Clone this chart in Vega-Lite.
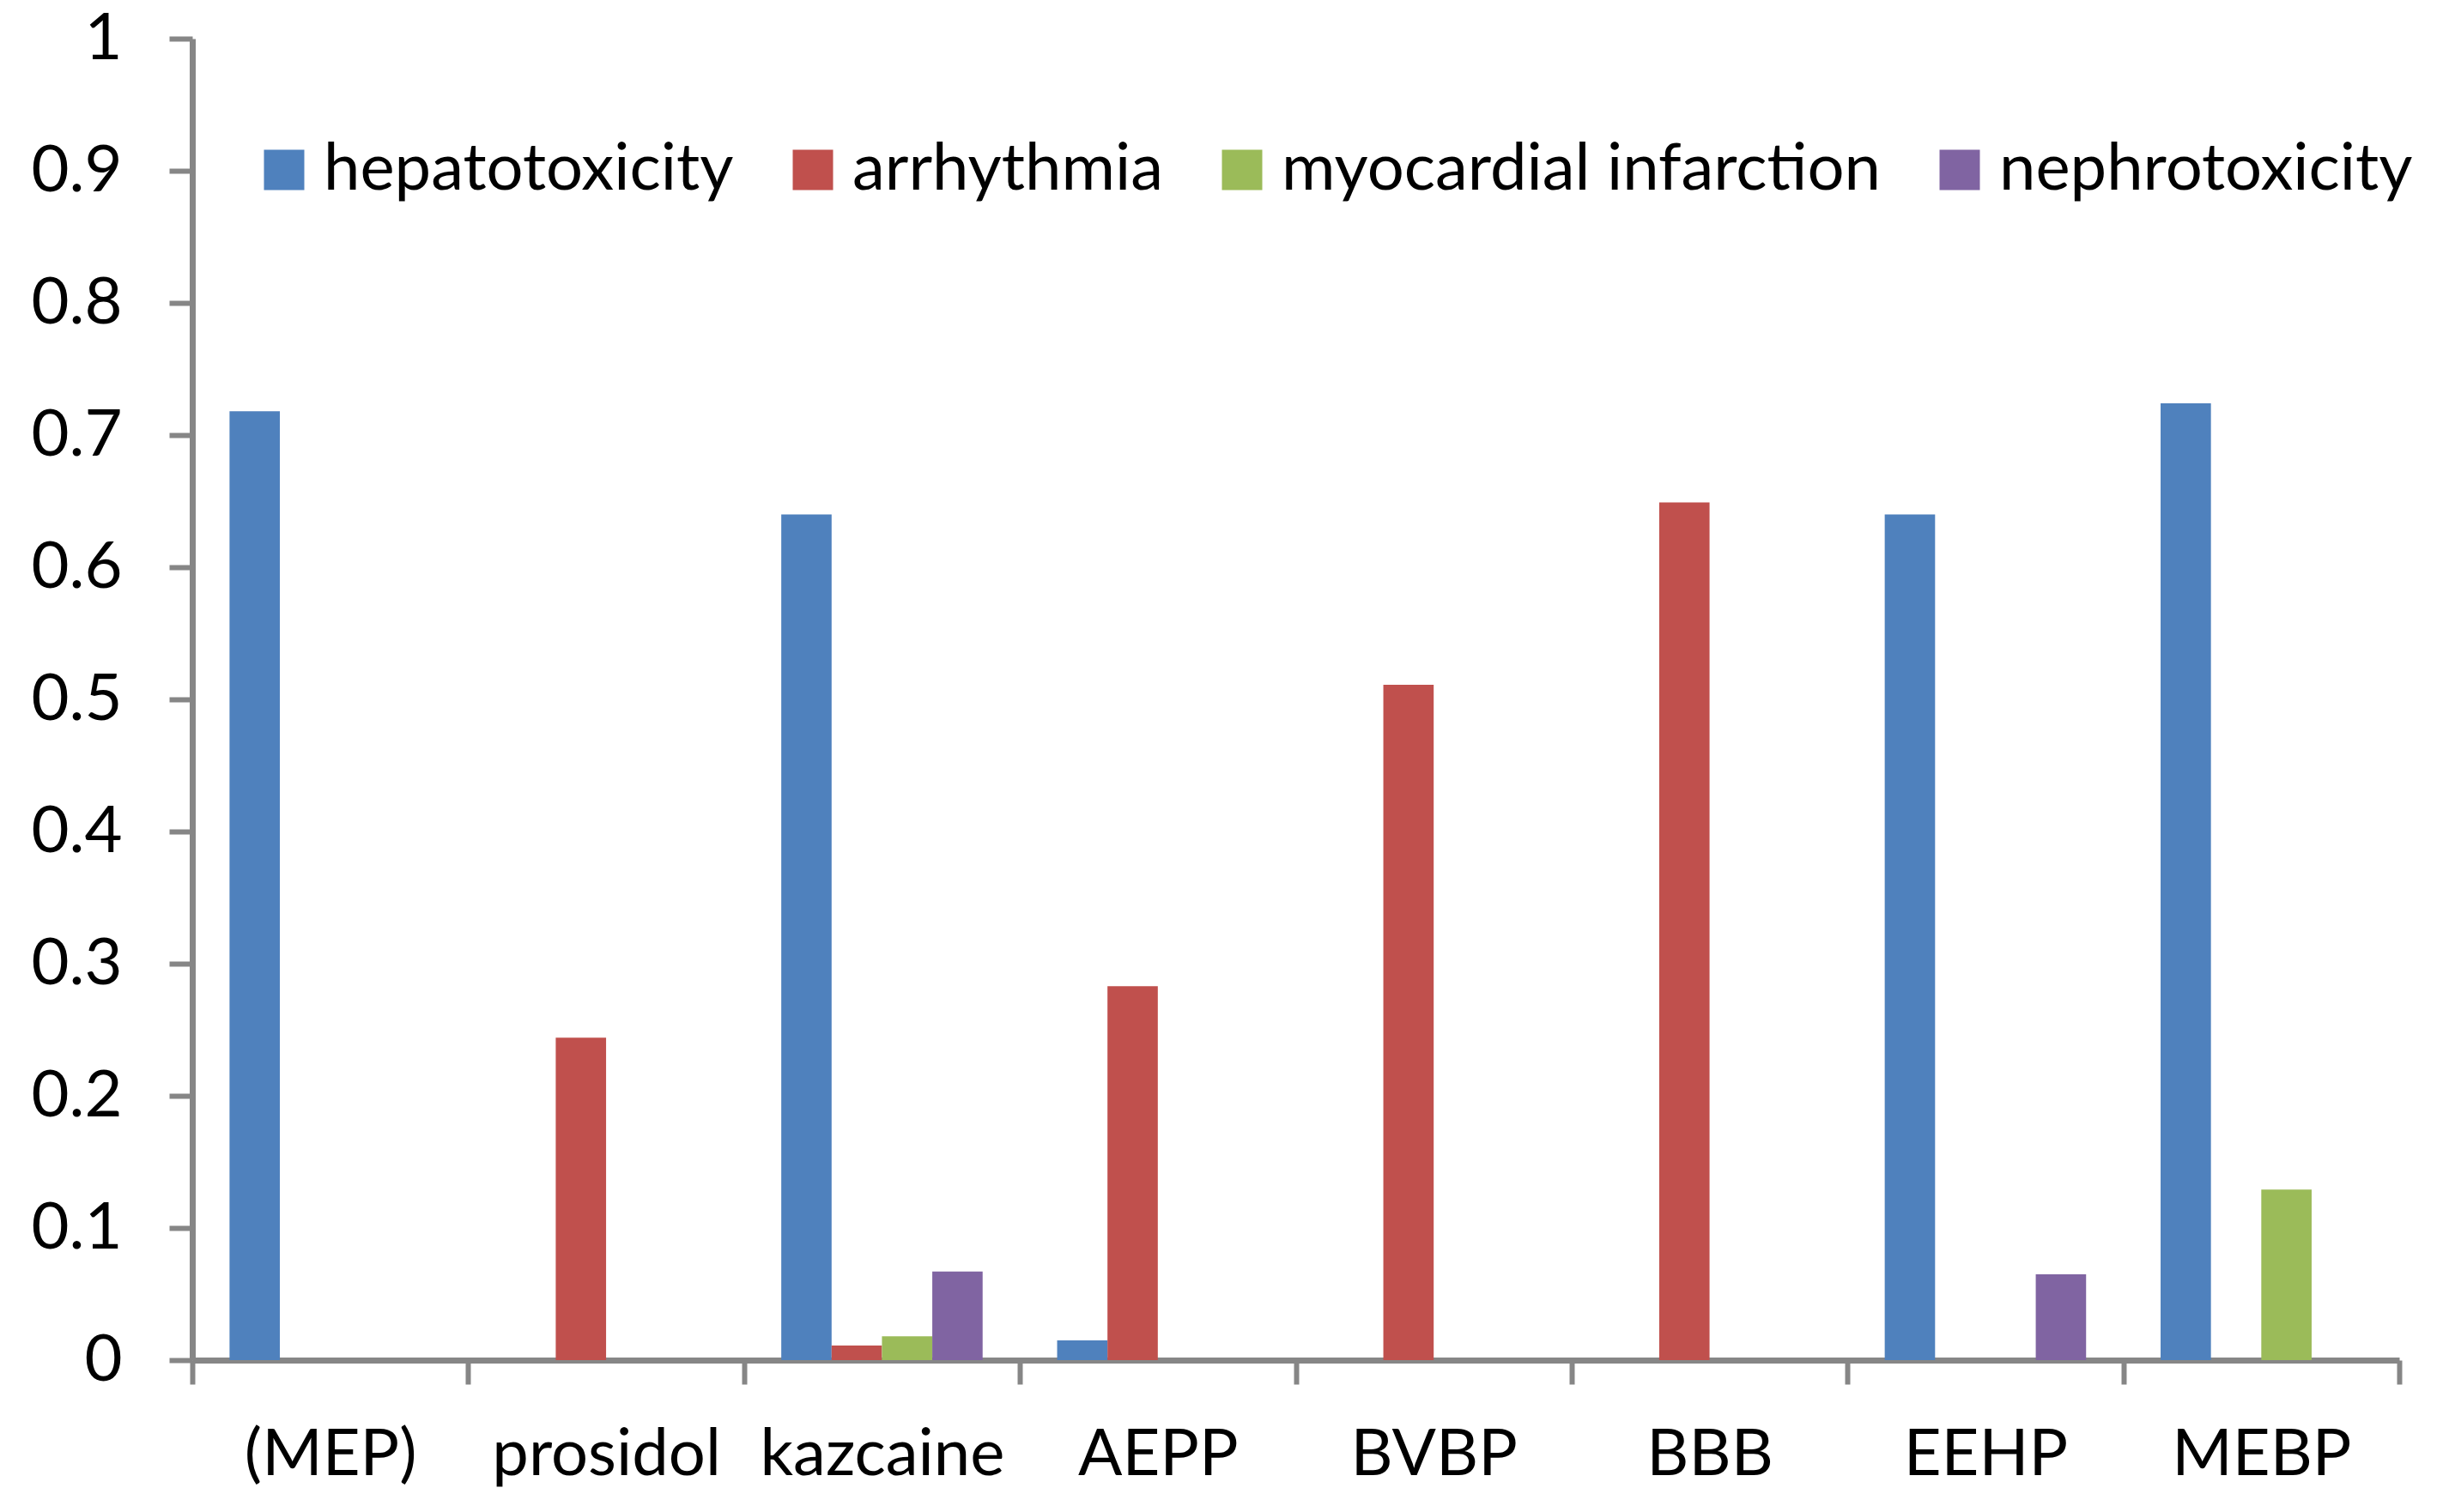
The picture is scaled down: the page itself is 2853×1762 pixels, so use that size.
{
  "$schema": "https://vega.github.io/schema/vega-lite/v6.json",
  "width": 2571,
  "height": 1540,
  "autosize": {"type": "none"},
  "padding": {"left": 224, "top": 45, "right": 58, "bottom": 177},
  "background": "white",
  "config": {"view": {"stroke": null}, "font": "Lato"},
  "data": {
    "values": [
      {"drug": "(MEP)", "effect": "hepatotoxicity", "value": 0.718},
      {"drug": "prosidol", "effect": "arrhythmia", "value": 0.244},
      {"drug": "kazcaine", "effect": "hepatotoxicity", "value": 0.640},
      {"drug": "kazcaine", "effect": "arrhythmia", "value": 0.011},
      {"drug": "kazcaine", "effect": "myocardial infarction", "value": 0.018},
      {"drug": "kazcaine", "effect": "nephrotoxicity", "value": 0.067},
      {"drug": "AEPP", "effect": "hepatotoxicity", "value": 0.015},
      {"drug": "AEPP", "effect": "arrhythmia", "value": 0.283},
      {"drug": "BVBP", "effect": "arrhythmia", "value": 0.511},
      {"drug": "BBB", "effect": "arrhythmia", "value": 0.649},
      {"drug": "EEHP", "effect": "hepatotoxicity", "value": 0.640},
      {"drug": "EEHP", "effect": "nephrotoxicity", "value": 0.065},
      {"drug": "MEBP", "effect": "hepatotoxicity", "value": 0.724},
      {"drug": "MEBP", "effect": "myocardial infarction", "value": 0.129}
    ]
  },
  "mark": {"type": "bar"},
  "encoding": {
    "x": {
      "field": "drug",
      "type": "nominal",
      "sort": ["(MEP)", "prosidol", "kazcaine", "AEPP", "BVBP", "BBB", "EEHP", "MEBP"],
      "scale": {"paddingInner": 0, "paddingOuter": 0},
      "axis": {
        "title": null,
        "labelAngle": 0,
        "tickBand": "extent",
        "domainColor": "#868686",
        "domainWidth": 7,
        "tickColor": "#868686",
        "tickWidth": 6,
        "tickSize": 28,
        "labelFont": "Lato",
        "labelFontSize": 76,
        "labelColor": "#000000",
        "labelPadding": 45,
        "labelLimit": 2000,
        "labelOverlap": false
      }
    },
    "xOffset": {
      "field": "effect",
      "type": "nominal",
      "scale": {
        "domain": ["hepatotoxicity", "arrhythmia", "myocardial infarction", "nephrotoxicity"],
        "paddingInner": 0,
        "paddingOuter": 0.74
      }
    },
    "y": {
      "field": "value",
      "type": "quantitative",
      "scale": {"domain": [0, 1], "nice": false},
      "axis": {
        "title": null,
        "grid": false,
        "values": [0, 0.1, 0.2, 0.3, 0.4, 0.5, 0.6, 0.7, 0.8, 0.9, 1],
        "format": "~g",
        "domainColor": "#868686",
        "domainWidth": 7,
        "tickColor": "#868686",
        "tickWidth": 6,
        "tickSize": 27,
        "labelFont": "Lato",
        "labelFontSize": 76,
        "labelColor": "#000000",
        "labelPadding": 55,
        "labelOverlap": false
      }
    },
    "color": {
      "field": "effect",
      "type": "nominal",
      "scale": {
        "domain": ["hepatotoxicity", "arrhythmia", "myocardial infarction", "nephrotoxicity"],
        "range": ["#4F81BD", "#C0504D", "#9BBB59", "#8064A2"]
      },
      "legend": {
        "title": null,
        "orient": "none",
        "direction": "horizontal",
        "legendX": 69,
        "legendY": 115,
        "symbolType": "square",
        "symbolSize": 2209,
        "symbolStrokeWidth": 0,
        "symbolOpacity": 1,
        "labelFont": "Lato",
        "labelFontSize": 76,
        "labelColor": "#000000",
        "labelOffset": 8,
        "columnPadding": 54,
        "labelLimit": 2000
      }
    }
  }
}
